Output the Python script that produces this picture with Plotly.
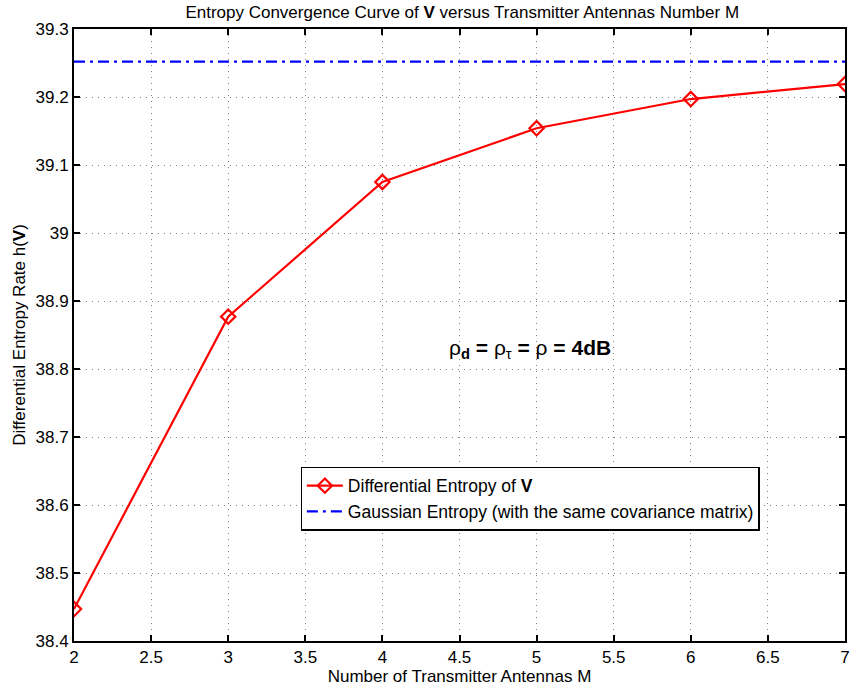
import plotly.graph_objects as go

# Number of transmitter antennas and measured entropy rates
antennas = [2, 3, 4, 5, 6, 7]
diff_entropy = [38.447, 38.877, 39.075, 39.154, 39.197, 39.219]
gaussian_entropy = 39.252

x_ticks = [2, 2.5, 3, 3.5, 4, 4.5, 5, 5.5, 6, 6.5, 7]
y_ticks = [38.4, 38.5, 38.6, 38.7, 38.8, 38.9, 39.0, 39.1, 39.2, 39.3]
y_tick_text = ["38.4", "38.5", "38.6", "38.7", "38.8", "38.9", "39", "39.1", "39.2", "39.3"]

font_family = "Liberation Sans, Arial, sans-serif"

fig = go.Figure()

fig.add_trace(go.Scatter(
    x=antennas,
    y=diff_entropy,
    mode="lines+markers",
    name="Differential Entropy of <b>V</b>",
    line=dict(color="#ff0000", width=2.2),
    marker=dict(symbol="diamond-open", size=11, color="#ff0000", line=dict(width=2.2, color="#ff0000")),
))

fig.add_trace(go.Scatter(
    x=[antennas[0], antennas[-1]],
    y=[gaussian_entropy, gaussian_entropy],
    mode="lines",
    name="Gaussian Entropy (with the same covariance matrix)",
    line=dict(color="#0000ff", width=2.2, dash="11px,5px,3px,5px"),
))

fig.add_annotation(
    x=4.96, y=38.83, xref="x", yref="y",
    text="ρ<sub><b>d</b></sub><b> = </b>ρ<sub>τ</sub><b> = </b>ρ<b> = 4dB</b>",
    showarrow=False,
    font=dict(size=21, color="black", family=font_family),
)

axis_common = dict(
    showline=True, linecolor="black", linewidth=2, mirror="ticks",
    ticks="inside", ticklen=6, tickcolor="black", tickwidth=1.5,
    showgrid=True, gridcolor="#808080", griddash="1px,5px", gridwidth=1.2,
    zeroline=False,
    tickfont=dict(size=17, color="black", family=font_family),
)

fig.update_xaxes(
    range=[2, 7], tickvals=x_ticks,
    title=dict(text="Number of Transmitter Antennas M", font=dict(size=17, color="black", family=font_family), standoff=2),
    **axis_common,
)
fig.update_yaxes(
    range=[38.4, 39.3], tickvals=y_ticks, ticktext=y_tick_text,
    title=dict(text="Differential Entropy Rate h(<b>V</b>)", font=dict(size=17, color="black", family=font_family), standoff=6),
    **axis_common,
)

fig.update_layout(
    width=856, height=692,
    margin=dict(l=74, r=6, t=29, b=51),
    paper_bgcolor="white", plot_bgcolor="white",
    title=dict(
        text="Entropy Convergence Curve of <b>V</b> versus Transmitter Antennas Number M",
        x=0.54, xanchor="center", y=0.983, yanchor="middle",
        font=dict(size=17, color="black", family=font_family),
    ),
    legend=dict(
        x=0.294, y=0.285, xanchor="left", yanchor="top",
        bgcolor="white", bordercolor="black", borderwidth=1.2,
        font=dict(size=17.5, color="black", family=font_family),
        tracegroupgap=0, itemwidth=36,
    ),
    showlegend=True,
)

fig.write_html("out.html")
